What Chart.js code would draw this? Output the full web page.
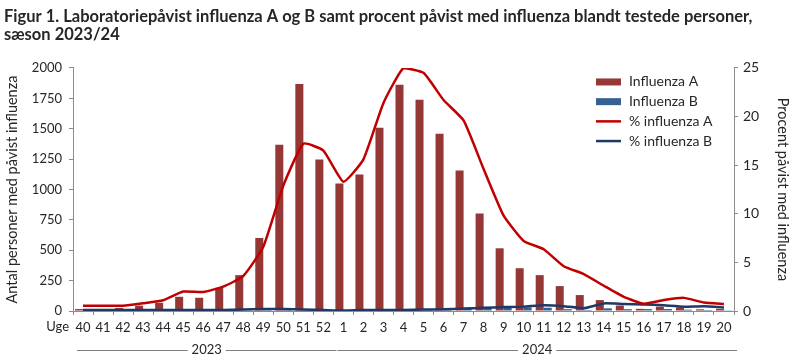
<!DOCTYPE html>
<html lang="da">
<head>
    <meta charset="UTF-8">
    <title>Influenza 2023/24</title>
    <script src="https://cdn.jsdelivr.net/npm/chart.js"></script>
    <style>
        html, body { margin: 0; padding: 0; background: #fff; }
        #wrap { width: 800px; height: 364px; }
    </style>
</head>
<body>
    <div id="wrap"><canvas id="fluChart" width="800" height="364"></canvas></div>

    <script>
        // uger i sæsonen
        const weeks = ['40', '41', '42', '43', '44', '45', '46', '47', '48', '49', '50', '51', '52',
                       '1', '2', '3', '4', '5', '6', '7', '8', '9', '10', '11', '12', '13', '14', '15',
                       '16', '17', '18', '19', '20'];

        // antal påvist
        const influenzaA = [16, 4, 25, 44, 68, 117, 109, 191, 295, 601, 1369, 1869, 1246,
                            1049, 1123, 1508, 1861, 1738, 1459, 1156, 803, 516, 352, 295, 205, 131, 90, 45,
                            18, 36, 30, 14, 19];
        const influenzaB = [3, 2, 3, 3, 4, 4, 4, 5, 6, 8, 10, 9, 7,
                            5, 6, 7, 8, 10, 20, 22, 30, 30, 30, 27, 15, 8, 22, 15,
                            16, 16, 11, 8, 6];

        // procent positive
        const pctA = [0.55, 0.55, 0.55, 0.8, 1.1, 2.0, 1.95, 2.5, 3.6, 6.6, 12.9, 17.2, 16.5,
                      13.3, 15.6, 21.4, 25.0, 24.5, 21.7, 19.6, 14.6, 9.8, 7.2, 6.35, 4.6, 3.8, 2.6, 1.45,
                      0.75, 1.13, 1.35, 0.87, 0.72];
        const pctB = [0.1, 0.1, 0.1, 0.1, 0.1, 0.1, 0.1, 0.1, 0.15, 0.2, 0.2, 0.15, 0.1,
                      0.05, 0.1, 0.1, 0.1, 0.15, 0.18, 0.25, 0.34, 0.4, 0.45, 0.6, 0.5, 0.28, 0.78, 0.72,
                      0.68, 0.58, 0.45, 0.5, 0.37];

        const yearLabels = ['2023', '2024'];
        const yearFirst = [0, 13];
        const yearLast = [12, 32];

        const FONT = 'Lato';
        const TXT = '#262626';
        const AXIS = '#8c8c8c';

        // Uge-tekst, årsgrupper og legend
        const extras = {
            id: 'extras',
            afterDraw(chart) {
                const ctx = chart.ctx;
                const xs = chart.scales.x;
                const ca = chart.chartArea;
                ctx.save();
                ctx.font = '13px ' + FONT;
                ctx.fillStyle = TXT;
                ctx.textBaseline = 'middle';
                ctx.textAlign = 'right';
                ctx.fillText('Uge', ca.left - 4, xs.top + 16);

                const half = xs.width / weeks.length / 2;
                const gy = xs.top + 39;
                ctx.textAlign = 'center';
                ctx.strokeStyle = '#7f7f7f';
                ctx.lineWidth = 1;
                yearLabels.forEach((lab, i) => {
                    const x0 = xs.getPixelForValue(yearFirst[i]) - half + 4;
                    const x1 = xs.getPixelForValue(yearLast[i]) + half + 3;
                    const cx = (x0 + x1) / 2;
                    const w = ctx.measureText(lab).width / 2 + 4;
                    ctx.beginPath();
                    ctx.moveTo(x0, gy + 0.5); ctx.lineTo(cx - w, gy + 0.5);
                    ctx.moveTo(cx + w, gy + 0.5); ctx.lineTo(x1, gy + 0.5);
                    ctx.stroke();
                    ctx.fillText(lab, cx, gy);
                });

                // legend
                const lx = ca.right - 138;
                ctx.font = '14px ' + FONT;
                ctx.textAlign = 'left';
                chart.data.datasets.forEach((ds, i) => {
                    const y = ca.top + 14 + i * 19.7;
                    if (ds.type === 'line') {
                        ctx.strokeStyle = ds.borderColor;
                        ctx.lineWidth = 2.5;
                        ctx.beginPath();
                        ctx.moveTo(lx, y); ctx.lineTo(lx + 25, y);
                        ctx.stroke();
                    } else {
                        ctx.fillStyle = ds.backgroundColor;
                        ctx.fillRect(lx, y - 3.5, 25, 7);
                    }
                    ctx.fillStyle = TXT;
                    ctx.fillText(ds.label, lx + 33, y);
                });
                ctx.restore();
            }
        };

        new Chart(document.getElementById('fluChart'), {
            data: {
                labels: weeks,
                datasets: [{
                    type: 'bar',
                    label: 'Influenza A',
                    data: influenzaA,
                    backgroundColor: '#953735',
                    yAxisID: 'y',
                    order: 2
                }, {
                    type: 'bar',
                    label: 'Influenza B',
                    data: influenzaB,
                    backgroundColor: '#376092',
                    yAxisID: 'y',
                    order: 2
                }, {
                    type: 'line',
                    label: '% influenza A',
                    data: pctA,
                    borderColor: '#C00000',
                    borderWidth: 2.5,
                    pointRadius: 0,
                    tension: 0.15,
                    yAxisID: 'y1',
                    order: 1
                }, {
                    type: 'line',
                    label: '% influenza B',
                    data: pctB,
                    borderColor: '#1F3864',
                    borderWidth: 2.5,
                    pointRadius: 0,
                    tension: 0.15,
                    yAxisID: 'y1',
                    order: 1
                }]
            },
            options: {
                responsive: false,
                animation: false,
                layout: { padding: { left: 4, right: 0, top: 0, bottom: 0 } },
                datasets: { bar: { categoryPercentage: 0.8, barPercentage: 1.0 } },
                plugins: {
                    legend: { display: false },
                    tooltip: { enabled: false },
                    title: {
                        display: true,
                        align: 'start',
                        color: TXT,
                        text: ['Figur 1. Laboratoriepåvist influenza A og B samt procent påvist med influenza blandt testede personer,',
                               'sæson 2023/24'],
                        font: { family: FONT, size: 16.5, weight: 'bold', lineHeight: 1.12 },
                        padding: { top: 7, bottom: 24 }
                    }
                },
                scales: {
                    x: {
                        ticks: { color: TXT, font: { family: FONT, size: 13 }, autoSkip: false, maxRotation: 0, padding: 5 },
                        grid: { drawOnChartArea: false, drawTicks: true, tickLength: 4, color: AXIS, offset: true },
                        border: { color: AXIS },
                        afterFit(s) { s.height = 53; }
                    },
                    y: {
                        position: 'left',
                        min: 0,
                        max: 2000,
                        ticks: { stepSize: 250, color: TXT, font: { family: FONT, size: 13 }, padding: 7,
                                 callback: v => String(v) },
                        grid: { drawOnChartArea: false, drawTicks: true, tickLength: 4, color: AXIS },
                        border: { color: AXIS },
                        title: { display: true, text: 'Antal personer med påvist influenza', color: TXT,
                                 font: { family: FONT, size: 14.5 }, padding: 0 },
                        afterFit(s) { s.width = 69; }
                    },
                    y1: {
                        position: 'right',
                        min: 0,
                        max: 25,
                        ticks: { stepSize: 5, color: TXT, font: { family: FONT, size: 14 }, padding: 5,
                                 callback: v => String(v) },
                        grid: { drawOnChartArea: false, drawTicks: true, tickLength: 4, color: AXIS },
                        border: { color: AXIS },
                        title: { display: true, text: 'Procent påvist med influenza', color: TXT,
                                 font: { family: FONT, size: 14.5 }, padding: { top: 9, bottom: 0 } },
                        afterFit(s) { s.width = 66; }
                    }
                }
            },
            plugins: [extras]
        });
    </script>
</body>
</html>
